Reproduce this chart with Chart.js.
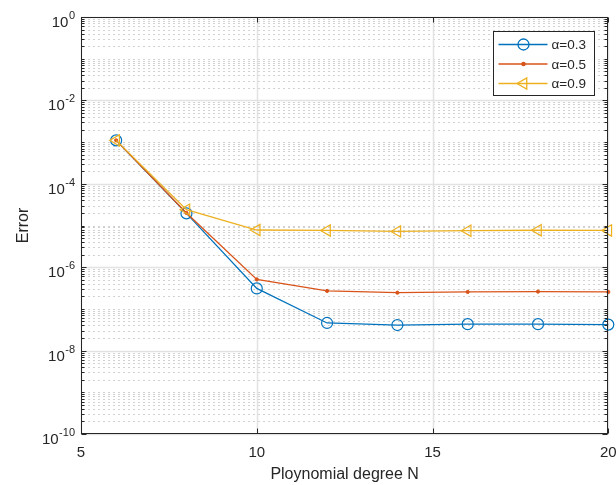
<!DOCTYPE html>
<html>
<head>
<meta charset="utf-8">
<script src="https://cdn.jsdelivr.net/npm/chart.js@4.4.0/dist/chart.umd.min.js"></script>
<style>
  html, body { margin: 0; padding: 0; background: #fff; }
  #wrap { width: 616px; height: 485px; }
</style>
</head>
<body>
<div id="wrap"><canvas id="errChart"></canvas></div>
<script>
// data
const degrees = [6, 8, 10, 12, 14, 16, 18, 20];
const errAlpha03 = [1.1e-3, 1.95e-5, 3.1e-7, 4.6e-8, 4.1e-8, 4.3e-8, 4.3e-8, 4.2e-8];
const errAlpha05 = [1.1e-3, 2.0e-5, 5.1e-7, 2.7e-7, 2.45e-7, 2.55e-7, 2.6e-7, 2.55e-7];
const errAlpha09 = [1.1e-3, 2.4e-5, 7.8e-6, 7.6e-6, 7.2e-6, 7.5e-6, 7.7e-6, 7.6e-6];
const seriesLabels = ['α=0.3', 'α=0.5', 'α=0.9'];
const xTicks = [5, 10, 15, 20];
const yExponents = [0, -2, -4, -6, -8, -10];

const FONT = "'Liberation Sans', Arial, Helvetica, sans-serif";
const AXIS_COLOR = '#262626';

function hline(ctx, x1, x2, y) {
    ctx.beginPath(); ctx.moveTo(x1, y); ctx.lineTo(x2, y); ctx.stroke();
}
function vline(ctx, x, y1, y2) {
    ctx.beginPath(); ctx.moveTo(x, y1); ctx.lineTo(x, y2); ctx.stroke();
}

// grid, box, inner ticks, y labels and legend like a matlab figure
const matlabAxes = {
    id: 'matlabAxes',
    beforeDatasetsDraw(chart) {
        const { ctx, chartArea: a, scales: { x, y } } = chart;
        ctx.save();
        ctx.lineWidth = 1;

        // minor grid (dotted)
        ctx.strokeStyle = '#d2d2d2';
        ctx.setLineDash([2, 3]);
        for (let e = -10; e < 0; e++) {
            for (let m = 1; m < 10; m++) {
                if (m === 1 && e % 2 === 0) continue;
                const py = Math.round(y.getPixelForValue(m * Math.pow(10, e))) + 0.5;
                hline(ctx, a.left + 2, a.right, py);
            }
        }

        // major grid
        ctx.setLineDash([]);
        ctx.strokeStyle = '#e2e2e2';
        ctx.lineWidth = 1.5;
        yExponents.forEach(e => {
            const py = Math.round(y.getPixelForValue(Math.pow(10, e))) + 0.5;
            hline(ctx, a.left, a.right, py);
        });
        xTicks.forEach(v => {
            const px = Math.round(x.getPixelForValue(v)) + 0.5;
            vline(ctx, px, a.top, a.bottom);
        });
        ctx.restore();
    },
    afterDatasetsDraw(chart) {
        const { ctx, chartArea: a, scales: { x, y } } = chart;
        ctx.save();
        ctx.strokeStyle = AXIS_COLOR;
        ctx.lineWidth = 1;
        const L = Math.round(a.left) + 0.5, R = Math.round(a.right) - 0.5;
        const T = Math.round(a.top) + 0.5, B = Math.round(a.bottom) - 0.5;

        // y ticks (inside, both sides)
        for (let e = -10; e <= 0; e++) {
            for (let m = 1; m < 10; m++) {
                const v = m * Math.pow(10, e);
                if (v > 1) break;
                const py = Math.round(y.getPixelForValue(v)) + 0.5;
                const len = (m === 1 && e % 2 === 0) ? 5 : 3;
                hline(ctx, L, L + len, py);
                hline(ctx, R - len, R, py);
            }
        }
        // x ticks
        xTicks.forEach(v => {
            const px = Math.round(x.getPixelForValue(v)) + 0.5;
            vline(ctx, px, B - 5, B);
            vline(ctx, px, T, T + 5);
        });

        // box
        ctx.strokeRect(L, T, R - L, B - T);

        // y tick labels 10^e
        ctx.fillStyle = AXIS_COLOR;
        ctx.textBaseline = 'alphabetic';
        yExponents.forEach(e => {
            const py = y.getPixelForValue(Math.pow(10, e));
            const sup = String(e);
            ctx.font = '11px ' + FONT;
            const supW = ctx.measureText(sup).width;
            const right = a.left - 6;
            ctx.textAlign = 'right';
            ctx.fillText(sup, right, py + 2);
            ctx.font = '15px ' + FONT;
            ctx.fillText('10', right - supW - 0.5, py + 10);
        });

        // legend
        const lw = 101, lh = 64;
        const lx = Math.round(a.right - 14 - lw) + 0.5;
        const ly = Math.round(a.top + 14) + 0.5;
        ctx.fillStyle = '#ffffff';
        ctx.fillRect(lx, ly, lw, lh);
        ctx.strokeStyle = AXIS_COLOR;
        ctx.strokeRect(lx, ly, lw, lh);
        chart.data.datasets.forEach((ds, i) => {
            const ry = ly + 13 + i * 19.5;
            ctx.strokeStyle = ds.borderColor;
            ctx.lineWidth = ds.borderWidth;
            hline(ctx, lx + 5, lx + 54, ry);
            ctx.fillStyle = ds.pointBackgroundColor;
            Chart.helpers.drawPoint(ctx, {
                pointStyle: ds.pointStyle,
                rotation: ds.pointRotation || 0,
                radius: ds.pointRadius,
                borderWidth: ds.pointBorderWidth
            }, lx + 30, ry);
            ctx.fillStyle = AXIS_COLOR;
            ctx.font = '13.5px ' + FONT;
            ctx.textAlign = 'left';
            ctx.textBaseline = 'middle';
            ctx.fillText(ds.label, lx + 58, ry + 1);
        });
        ctx.restore();
    }
};

const ctx = document.getElementById('errChart').getContext('2d');
const errChart = new Chart(ctx, {
    type: 'line',
    data: {
        datasets: [
            {
                label: seriesLabels[0],
                data: degrees.map((d, i) => ({ x: d, y: errAlpha03[i] })),
                borderColor: '#0072BD',
                borderWidth: 1.3,
                pointStyle: 'circle',
                pointRadius: 5.5,
                pointBorderWidth: 1.2,
                pointBackgroundColor: 'rgba(0,0,0,0)',
                order: 3
            },
            {
                label: seriesLabels[1],
                data: degrees.map((d, i) => ({ x: d, y: errAlpha05[i] })),
                borderColor: '#D95319',
                borderWidth: 1.3,
                pointStyle: 'circle',
                pointRadius: 1.6,
                pointBorderWidth: 1,
                pointBackgroundColor: '#D95319',
                order: 2
            },
            {
                label: seriesLabels[2],
                data: degrees.map((d, i) => ({ x: d, y: errAlpha09[i] })),
                borderColor: '#EDB120',
                borderWidth: 1.3,
                pointStyle: 'triangle',
                pointRotation: -90,
                pointRadius: 6.5,
                pointBorderWidth: 1.2,
                pointBackgroundColor: 'rgba(0,0,0,0)',
                order: 1
            }
        ]
    },
    options: {
        responsive: true,
        maintainAspectRatio: false,
        animation: false,
        clip: false,
        layout: { padding: { top: 17, right: 7, left: 0, bottom: 0 } },
        plugins: { legend: { display: false }, tooltip: { enabled: false } },
        elements: { line: { tension: 0 } },
        scales: {
            x: {
                type: 'linear',
                min: 5,
                max: 20,
                grid: { display: false, drawTicks: false },
                border: { display: false },
                afterBuildTicks: s => { s.ticks = xTicks.map(v => ({ value: v })); },
                ticks: {
                    color: AXIS_COLOR,
                    font: { family: FONT, size: 15 },
                    padding: 10,
                    maxRotation: 0
                },
                title: {
                    display: true,
                    text: 'Ploynomial degree N',
                    color: AXIS_COLOR,
                    font: { family: FONT, size: 16 },
                    padding: { top: 0, bottom: 1 }
                },
                afterFit: s => { s.height = 51; s.paddingLeft = 0; s.paddingRight = 0; }
            },
            y: {
                type: 'logarithmic',
                min: 1e-10,
                max: 1,
                grid: { display: false, drawTicks: false },
                border: { display: false },
                ticks: { display: false },
                title: {
                    display: true,
                    text: 'Error',
                    color: AXIS_COLOR,
                    font: { family: FONT, size: 16 },
                    padding: { top: 14, bottom: 0 }
                },
                afterFit: s => { s.width = 81; s.paddingTop = 0; s.paddingBottom = 0; }
            }
        }
    },
    plugins: [matlabAxes]
});
</script>
</body>
</html>
